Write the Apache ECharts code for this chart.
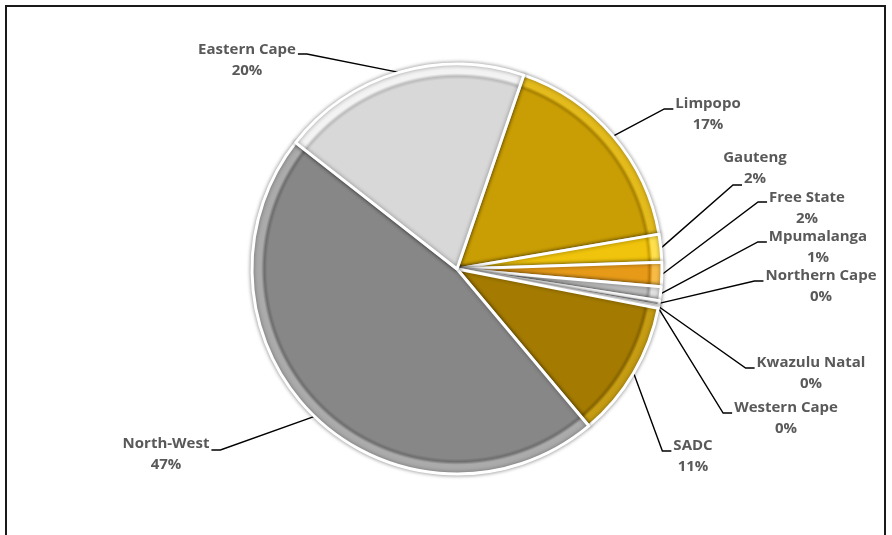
<!DOCTYPE html>
<html>
<head>
<meta charset="utf-8">
<script src="https://cdn.jsdelivr.net/npm/echarts@6/dist/echarts.min.js"></script>
<style>
  html, body { margin: 0; padding: 0; background: #fff; }
  #chart { width: 892px; height: 535px; }
</style>
</head>
<body>
<div id="chart"></div>
<script>
// ---- data ----
const categories = ['Limpopo', 'Gauteng', 'Free State', 'Mpumalanga', 'Northern Cape',
                    'Kwazulu Natal', 'Western Cape', 'SADC', 'North-West', 'Eastern Cape'];
const shares = [17.0, 2.2, 1.9, 1.1, 0.4, 0.1, 0.1, 10.8, 46.7, 19.7];

// ---- styling (not data) ----
const fillColors = ['#c99d04', '#f0c40c', '#e69a18', '#bdbdbd', '#e4e4e4',
                    '#eeeeee', '#eeeeee', '#a47b00', '#878787', '#d8d8d8'];
const rimColors  = ['#e4bb1c', '#ffe04c', '#f8bc46', '#e2e2e2', '#f6f6f6',
                    '#fafafa', '#fafafa', '#c59c12', '#ababab', '#f3f3f3'];
const edgeColors = ['#a88200', '#c9a000', '#c07a08', '#9a9a9a', '#c8c8c8',
                    '#d0d0d0', '#d0d0d0', '#866300', '#6e6e6e', '#bcbcbc'];
// label placement: [text centre x, first line centre y, tick y, side ('L' = tick left of text), tick on line]
const labelPlace = [
  [708, 104, 109, 'L', 1],
  [755, 158, 185, 'L', 2],
  [807, 198, 202, 'L', 1],
  [818, 237, 242, 'L', 1],
  [821, 276, 281, 'L', 1],
  [811, 363, 368, 'L', 1],
  [786, 408, 413, 'L', 1],
  [693, 446, 451, 'L', 1],
  [166, 444, 450, 'R', 1],
  [247, 50, 54, 'R', 1]
];
const LINE_H = 21;
const CX = 457, CY = 269, R = 205;

const chart = echarts.init(document.getElementById('chart'), null, { renderer: 'canvas' });

const pieData = categories.map((c, i) => ({
  name: c, value: shares[i],
  itemStyle: {
    color: {
      type: 'radial', x: CX, y: CY, r: R, global: true,
      colorStops: [
        { offset: 0, color: fillColors[i] },
        { offset: 0.925, color: fillColors[i] },
        { offset: 0.94, color: edgeColors[i] },
        { offset: 0.955, color: rimColors[i] },
        { offset: 1, color: rimColors[i] }
      ]
    }
  }
}));

chart.setOption({
  animation: false,
  backgroundColor: '#ffffff',
  graphic: [{
    type: 'rect',
    shape: { x: 6, y: 6, width: 879, height: 560 },
    style: { fill: 'none', stroke: '#1a1a1a', lineWidth: 2 },
    silent: true
  }],
  series: [
    {
      type: 'pie',
      center: [CX, CY],
      radius: R,
      startAngle: 71,
      clockwise: true,
      avoidLabelOverlap: false,
      data: pieData,
      itemStyle: {
        borderColor: '#ffffff', borderWidth: 3,
        shadowBlur: 4, shadowColor: 'rgba(0,0,0,0.4)'
      },
      emphasis: { disabled: true },
      label: {
        show: true,
        formatter: p => p.name + '\n' + Math.round(p.percent) + '%',
        fontFamily: '"Open Sans", "Liberation Sans", Arial, sans-serif',
        fontSize: 15,
        fontWeight: 'bold',
        color: '#595959',
        lineHeight: LINE_H,
        align: 'center'
      },
      labelLine: {
        show: true,
        smooth: false,
        lineStyle: { color: '#000000', width: 1.4 }
      },
      labelLayout: function (params) {
        const lp = labelPlace[params.dataIndex];
        const cx = lp[0], y1 = lp[1], ty = lp[2], side = lp[3], onLine = lp[4];
        const w = params.labelRect.width;
        const anchor = params.labelLinePoints ? params.labelLinePoints[0] : [cx, ty];
        let xEnd, xFar;
        if (side === 'L') {
          xEnd = onLine === 2 ? cx - 13 : cx - w / 2 - 2;
          xFar = xEnd - 9;
        } else {
          xEnd = cx + w / 2 + 2;
          xFar = xEnd + 9;
        }
        return {
          x: cx,
          y: y1 + LINE_H / 2,
          align: 'center',
          verticalAlign: 'middle',
          labelLinePoints: [[anchor[0], anchor[1]], [xFar, ty], [xEnd, ty]]
        };
      }
    }
  ]
});
</script>
</body>
</html>
